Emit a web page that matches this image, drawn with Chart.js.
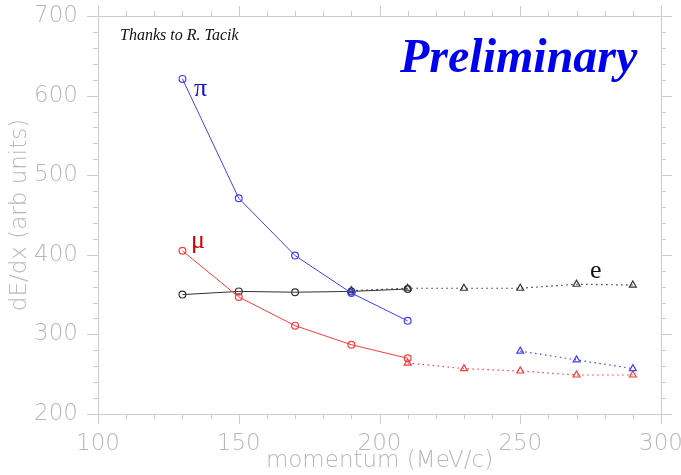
<!DOCTYPE html>
<html>
<head>
<meta charset="utf-8">
<script src="https://cdn.jsdelivr.net/npm/chart.js@4/dist/chart.umd.min.js"></script>
<style>
html,body{margin:0;padding:0;background:#fff;}
#wrap{width:681px;height:475px;position:relative;}
</style>
</head>
<body>
<div id="wrap"><canvas id="c" width="681" height="475"></canvas></div>
<script>
// momentum (MeV/c)
const momentaMain = [130, 150, 170, 190, 210];
const piValues = [621, 471, 399, 352, 317];
const muValues = [405, 347, 311, 287, 270];
const eValues = [350, 354, 353, 354, 357];

const eTriMomenta = [190, 210, 230, 250, 270, 290];
const eTriValues = [355, 358, 358, 358, 363, 362];
const piTriMomenta = [250, 270, 290];
const piTriValues = [279, 268, 257];
const muTriMomenta = [210, 230, 250, 270, 290];
const muTriValues = [264, 257, 254, 249, 249];

const xTicks = [100, 150, 200, 250, 300];
const yTicks = [200, 300, 400, 500, 600, 700];

const pts = (xs, ys) => xs.map((x, i) => ({x: x, y: ys[i]}));

const BLUE = '#4040ff', RED = '#ff3a3a', BLACK = '#333333';
const GRAY = '#cccccc', LABEL = '#b8b8b8';

const framePlugin = {
  id: 'frame',
  afterDraw(chart) {
    const {ctx, chartArea: a, scales: {x, y}} = chart;
    ctx.save();
    ctx.strokeStyle = GRAY;
    ctx.lineWidth = 1;
    ctx.beginPath();
    ctx.rect(a.left + 0.5, a.top + 0.5, a.right - a.left, a.bottom - a.top);
    ctx.stroke();
    ctx.beginPath();
    for (let v = 100; v <= 300; v += 10) {
      const px = Math.round(x.getPixelForValue(v)) + 0.5;
      const len = (v % 50 === 0) ? 10 : 5;
      ctx.moveTo(px, a.bottom); ctx.lineTo(px, a.bottom + len);
      ctx.moveTo(px, a.top); ctx.lineTo(px, a.top - len);
    }
    for (let v = 200; v <= 700; v += 20) {
      const py = Math.round(y.getPixelForValue(v)) + 0.5;
      const len = (v % 100 === 0) ? 11 : 5;
      ctx.moveTo(a.left, py); ctx.lineTo(a.left - len, py);
      ctx.moveTo(a.right, py); ctx.lineTo(a.right + len, py);
    }
    ctx.stroke();

    // annotations
    ctx.textBaseline = 'alphabetic';
    ctx.textAlign = 'left';
    ctx.fillStyle = '#111';
    ctx.font = 'italic 16px "Liberation Serif"';
    ctx.fillText('Thanks to R. Tacik', 120, 40);
    ctx.fillStyle = '#0000f0';
    ctx.font = 'italic bold 48px "Liberation Serif"';
    ctx.fillText('Preliminary', 400, 72);
    ctx.font = '26px "Liberation Serif"';
    ctx.fillStyle = '#1010d0';
    ctx.fillText('π', 194, 96);
    ctx.fillStyle = '#d00000';
    ctx.fillText('μ', 191, 248);
    ctx.fillStyle = '#111';
    ctx.fillText('e', 590, 278);
    ctx.restore();
  }
};

const solid = (label, data, color) => ({
  label, data, borderColor: color, backgroundColor: 'transparent',
  borderWidth: 1, pointStyle: 'circle', pointRadius: 3.4,
  pointBorderColor: color, pointBorderWidth: 1.2, pointBackgroundColor: 'transparent',
  tension: 0
});
const dotted = (label, data, color) => ({
  label, data, borderColor: color, backgroundColor: 'transparent',
  borderWidth: 1.2, borderDash: [1.5, 3.5], pointStyle: 'triangle', pointRadius: 4,
  pointBorderColor: color, pointBorderWidth: 1.2, pointBackgroundColor: 'transparent',
  tension: 0
});

new Chart(document.getElementById('c'), {
  type: 'line',
  data: {
    datasets: [
      solid('π', pts(momentaMain, piValues), BLUE),
      solid('μ', pts(momentaMain, muValues), RED),
      solid('e', pts(momentaMain, eValues), BLACK),
      dotted('e (ext)', pts(eTriMomenta, eTriValues), BLACK),
      dotted('π (ext)', pts(piTriMomenta, piTriValues), BLUE),
      dotted('μ (ext)', pts(muTriMomenta, muTriValues), RED)
    ]
  },
  options: {
    responsive: false,
    animation: false,
    devicePixelRatio: 1,
    layout: {padding: {top: 16, right: 20, left: 0, bottom: 0}},
    plugins: {legend: {display: false}, tooltip: {enabled: false}},
    scales: {
      x: {
        type: 'linear', min: 100, max: 300,
        afterBuildTicks: s => { s.ticks = xTicks.map(v => ({value: v})); },
        afterFit: s => { s.height = 61; s.paddingLeft = 0; s.paddingRight = 0; },
        grid: {display: false},
        border: {display: false},
        ticks: {color: LABEL, font: {family: 'DejaVu Sans', size: 23, weight: 200}, padding: 8, maxRotation: 0},
        title: {display: true, text: 'momentum (MeV/c)', color: LABEL,
                font: {family: 'DejaVu Sans', size: 23, weight: 200}, padding: {top: 0, bottom: 0}}
      },
      y: {
        type: 'linear', min: 200, max: 700,
        afterBuildTicks: s => { s.ticks = yTicks.map(v => ({value: v})); },
        afterFit: s => { s.width = 98; s.paddingTop = 0; s.paddingBottom = 0; },
        grid: {display: false},
        border: {display: false},
        ticks: {color: LABEL, font: {family: 'DejaVu Sans', size: 23, weight: 200}, padding: 12},
        title: {display: true, text: 'dE/dx (arb units)', color: LABEL,
                font: {family: 'DejaVu Sans', size: 23, weight: 200}, padding: {top: 6, bottom: 0}}
      }
    }
  },
  plugins: [framePlugin]
});
</script>
</body>
</html>
